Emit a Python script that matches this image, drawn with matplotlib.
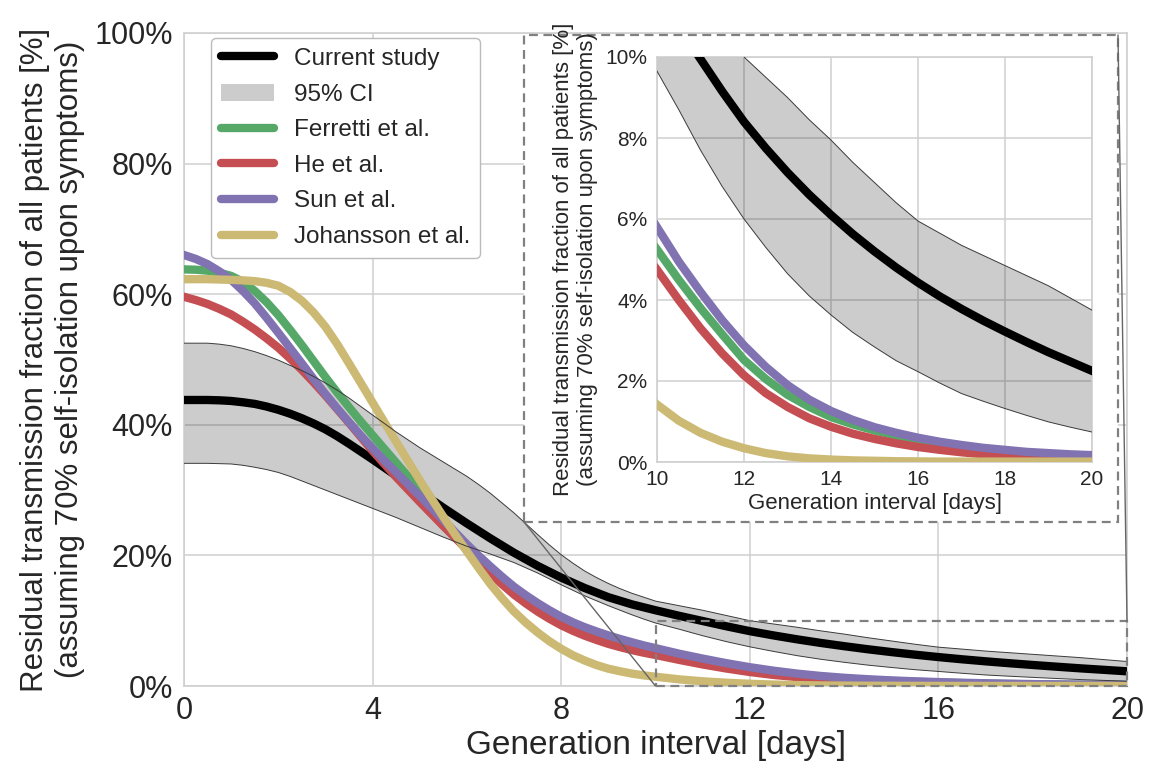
import matplotlib
matplotlib.use("Agg")
import matplotlib.pyplot as plt
from matplotlib.patches import Patch, Rectangle, ConnectionPatch
from matplotlib.lines import Line2D
from matplotlib.ticker import FuncFormatter

plt.rcParams['font.family'] = ['Liberation Sans', 'DejaVu Sans']

# ---------------- data (values in %) ----------------
days = [0, 0.25, 0.5, 0.75, 1, 1.25, 1.5, 1.75, 2, 2.25, 2.5, 2.75, 3, 3.25, 3.5, 3.75,
        4, 4.25, 4.5, 4.75, 5, 5.25, 5.5, 5.75, 6, 6.25, 6.5, 6.75, 7, 7.25, 7.5, 7.75,
        8, 8.25, 8.5, 8.75, 9, 9.25, 9.5, 9.75, 10,
        10.5, 11, 11.5, 12, 12.5, 13, 13.5, 14, 14.5, 15, 15.5, 16, 16.5, 17, 17.5, 18, 18.5, 19, 19.5, 20]

current_study = [43.8, 43.8, 43.8, 43.75, 43.65, 43.45, 43.2, 42.8, 42.3, 41.7, 41.0, 40.2, 39.3, 38.25,
                 37.1, 35.9, 34.7, 33.45, 32.2, 31.0, 29.8, 28.55, 27.3, 26.1, 24.9, 23.75, 22.6, 21.5,
                 20.4, 19.4, 18.4, 17.5, 16.6, 15.8, 15.0, 14.3, 13.6, 13.05, 12.5, 12.05, 11.6,
                 10.75, 9.95, 9.15, 8.4, 7.75, 7.15, 6.6, 6.1, 5.63, 5.2, 4.8, 4.43, 4.09, 3.78, 3.49,
                 3.22, 2.96, 2.71, 2.48, 2.25]
ci_upper = [52.5, 52.5, 52.5, 52.35, 52.1, 51.7, 51.2, 50.6, 49.9, 49.1, 48.3, 47.4, 46.4, 45.3,
            44.1, 42.8, 41.5, 40.2, 38.9, 37.7, 36.5, 35.4, 34.3, 33.2, 32.1, 30.85, 29.5, 28.0,
            26.5, 24.85, 23.2, 21.6, 20.1, 18.8, 17.6, 16.6, 15.7, 14.9, 14.2, 13.6, 13.0,
            12.3, 11.6, 10.8, 10.0, 9.5, 9.0, 8.45, 7.95, 7.4, 6.9, 6.4, 5.95, 5.65, 5.35, 5.1,
            4.85, 4.6, 4.35, 4.05, 3.75]
ci_lower = [34.1, 34.1, 34.1, 34.05, 34.0, 33.8, 33.5, 33.15, 32.7, 32.1, 31.4, 30.7, 30.0, 29.3,
            28.6, 27.9, 27.2, 26.5, 25.8, 25.05, 24.3, 23.55, 22.8, 22.1, 21.4, 20.8, 20.2, 19.55,
            18.9, 18.1, 17.3, 16.4, 15.5, 14.65, 13.8, 13.05, 12.3, 11.6, 10.9, 10.25, 9.65,
            8.7, 7.7, 6.8, 6.0, 5.3, 4.65, 4.1, 3.63, 3.2, 2.84, 2.5, 2.23, 1.95, 1.69, 1.5,
            1.32, 1.15, 0.99, 0.86, 0.74]
ferretti = [63.8, 63.75, 63.6, 63.3, 62.8, 61.9, 60.5, 58.8, 56.8, 54.55, 52.2, 49.75, 47.3, 44.95,
            42.7, 40.5, 38.4, 36.3, 34.2, 32.1, 30.0, 27.8, 25.6, 23.4, 21.3, 19.5, 17.8, 16.2,
            14.7, 13.35, 12.1, 10.95, 9.9, 9.0, 8.2, 7.55, 6.95, 6.45, 5.98, 5.6, 5.25,
            4.5, 3.8, 3.15, 2.52, 2.05, 1.66, 1.36, 1.11, 0.93, 0.78, 0.65, 0.54, 0.45, 0.37, 0.31,
            0.26, 0.22, 0.19, 0.17, 0.15]
he = [59.6, 59.1, 58.5, 57.75, 56.9, 55.8, 54.6, 53.25, 51.8, 50.15, 48.4, 46.5, 44.5, 42.4,
      40.3, 38.15, 36.0, 34.0, 32.0, 30.1, 28.2, 26.35, 24.5, 22.7, 20.9, 19.05, 17.2, 15.55,
      14.0, 12.65, 11.4, 10.3, 9.3, 8.45, 7.7, 7.05, 6.45, 5.95, 5.5, 5.1, 4.75,
      4.0, 3.3, 2.68, 2.14, 1.7, 1.36, 1.08, 0.87, 0.7, 0.57, 0.46, 0.37, 0.3, 0.24, 0.19,
      0.16, 0.13, 0.11, 0.1, 0.09]
sun = [66.0, 65.4, 64.6, 63.5, 62.2, 60.5, 58.6, 56.4, 54.1, 51.75, 49.4, 47.0, 44.7, 42.5,
       40.4, 38.35, 36.4, 34.5, 32.7, 30.9, 29.1, 27.25, 25.4, 23.55, 21.7, 19.95, 18.3, 16.7,
       15.2, 13.9, 12.7, 11.6, 10.6, 9.75, 9.0, 8.35, 7.75, 7.2, 6.7, 6.22, 5.8,
       4.95, 4.2, 3.5, 2.88, 2.35, 1.9, 1.54, 1.26, 1.04, 0.86, 0.72, 0.6, 0.5, 0.42, 0.35,
       0.3, 0.25, 0.22, 0.19, 0.17]
johansson = [62.3, 62.3, 62.3, 62.25, 62.2, 62.12, 62.0, 61.75, 61.3, 60.35, 59.0, 57.2, 55.0, 52.35,
             49.4, 46.4, 43.4, 40.4, 37.4, 34.45, 31.5, 28.7, 25.9, 23.2, 20.6, 18.05, 15.6, 13.4,
             11.4, 9.7, 8.2, 6.85, 5.7, 4.7, 3.9, 3.2, 2.65, 2.25, 1.9, 1.63, 1.42,
             1.02, 0.72, 0.5, 0.34, 0.22, 0.14, 0.09, 0.06, 0.04, 0.03, 0.02, 0.015, 0.01, 0.01, 0.01,
             0.01, 0.01, 0.01, 0.01, 0.01]

legend_labels = ["Current study", "95% CI", "Ferretti et al.", "He et al.", "Sun et al.", "Johansson et al."]
main_xticks = [0, 4, 8, 12, 16, 20]
main_yticks = [0, 20, 40, 60, 80, 100]
inset_xticks = [10, 12, 14, 16, 18, 20]
inset_yticks = [0, 2, 4, 6, 8, 10]
inset_xlim = (10, 20)
inset_ylim = (0, 10)

xlabel = "Generation interval [days]"
ylabel = "Residual transmission fraction of all patients [%]\n(assuming 70% self-isolation upon symptoms)"

# ---------------- style ----------------
C_GREEN = "#55A868"
C_RED = "#C44E52"
C_PURPLE = "#8172B2"
C_YELLOW = "#CCB974"
C_TEXT = "#262626"
C_GRID = "#d0d0d0"
LW = 6

series = [(ferretti, C_GREEN), (he, C_RED), (sun, C_PURPLE), (johansson, C_YELLOW)]
pct = FuncFormatter(lambda v, p: f"{v:.0f}%")


def draw_curves(a):
    a.fill_between(days, ci_lower, ci_upper, facecolor="black", alpha=0.2, edgecolor="none", zorder=2)
    a.plot(days, current_study, color="black", lw=LW, zorder=3, solid_joinstyle="round")
    for vals, col in series:
        a.plot(days, vals, color=col, lw=LW, zorder=4, solid_joinstyle="round")
    a.plot(days, ci_upper, color="#3a3a3a", lw=0.7, zorder=5)
    a.plot(days, ci_lower, color="#3a3a3a", lw=0.7, zorder=5)


def style_axes(a, fs, pad_x, pad_y):
    a.set_facecolor("white")
    a.grid(True, color=C_GRID, lw=1.1)
    a.set_axisbelow(True)
    for s in a.spines.values():
        s.set_color(C_GRID)
        s.set_linewidth(1.2)
    a.tick_params(axis="both", length=0, labelsize=fs, colors=C_TEXT)
    a.tick_params(axis="x", pad=pad_x)
    a.tick_params(axis="y", pad=pad_y)
    a.yaxis.set_major_formatter(pct)


fig = plt.figure(figsize=(11.51, 7.69), dpi=100)
fig.patch.set_facecolor("white")

W, H = 1151.0, 769.0
ax = fig.add_axes([184 / W, 1 - 686 / H, 943 / W, 653 / H])
style_axes(ax, 22, 7, 8)
draw_curves(ax)
ax.set_xlim(0, 20)
ax.set_ylim(0, 100)
ax.set_xticks(main_xticks)
ax.set_yticks(main_yticks)
ax.set_xlabel(xlabel, fontsize=24, color=C_TEXT, labelpad=3)
ax.set_ylabel(ylabel, fontsize=22.5, color=C_TEXT, labelpad=7)

handles = [Line2D([], [], color="black", lw=LW, solid_capstyle="round"),
           Patch(facecolor="black", alpha=0.2, edgecolor="none")]
for vals, col in series:
    handles.append(Line2D([], [], color=col, lw=LW, solid_capstyle="round"))
leg = ax.legend(handles, legend_labels, loc="upper left", bbox_to_anchor=(0.0286, 0.992),
                borderaxespad=0, fontsize=17.5, frameon=True, fancybox=True, framealpha=1,
                edgecolor="#bbbbbb", handlelength=2.2, labelspacing=0.56)
for t in leg.get_texts():
    t.set_color(C_TEXT)
leg.set_zorder(10)

# zoom rectangle on main axes
ax.add_patch(Rectangle((inset_xlim[0], inset_ylim[0]), inset_xlim[1] - inset_xlim[0],
                       inset_ylim[1] - inset_ylim[0], fill=False, edgecolor="#808080",
                       lw=1.6, ls=(0, (4, 2.5)), zorder=8, clip_on=False))

# dashed white box holding the inset
box_l, box_b, box_r, box_t = 524 / W, 1 - 522 / H, 1118 / W, 1 - 35 / H
fig.add_artist(Rectangle((box_l, box_b), box_r - box_l, box_t - box_b, transform=fig.transFigure,
                         facecolor="white", edgecolor="#808080", lw=1.6, ls=(0, (4, 2.5)), zorder=1))

for xyA, xyB in [((box_l, box_b), (inset_xlim[0], inset_ylim[0])),
                 ((box_r, box_t), (inset_xlim[1], inset_ylim[1]))]:
    cp = ConnectionPatch(xyA=xyA, coordsA=fig.transFigure, xyB=xyB, coordsB=ax.transData,
                         color="#666666", lw=1.0, zorder=1.5)
    fig.add_artist(cp)

# inset axes
axin = fig.add_axes([657 / W, 1 - 462 / H, 435 / W, 405 / H], zorder=2)
style_axes(axin, 15, 6, 7)
draw_curves(axin)
axin.set_xlim(*inset_xlim)
axin.set_ylim(*inset_ylim)
axin.set_xticks(inset_xticks)
axin.set_yticks(inset_yticks)
axin.set_xlabel(xlabel, fontsize=16, color=C_TEXT, labelpad=3)
axin.set_ylabel(ylabel, fontsize=16, color=C_TEXT, labelpad=5)

fig.savefig("out.png", dpi=100, facecolor="white")
